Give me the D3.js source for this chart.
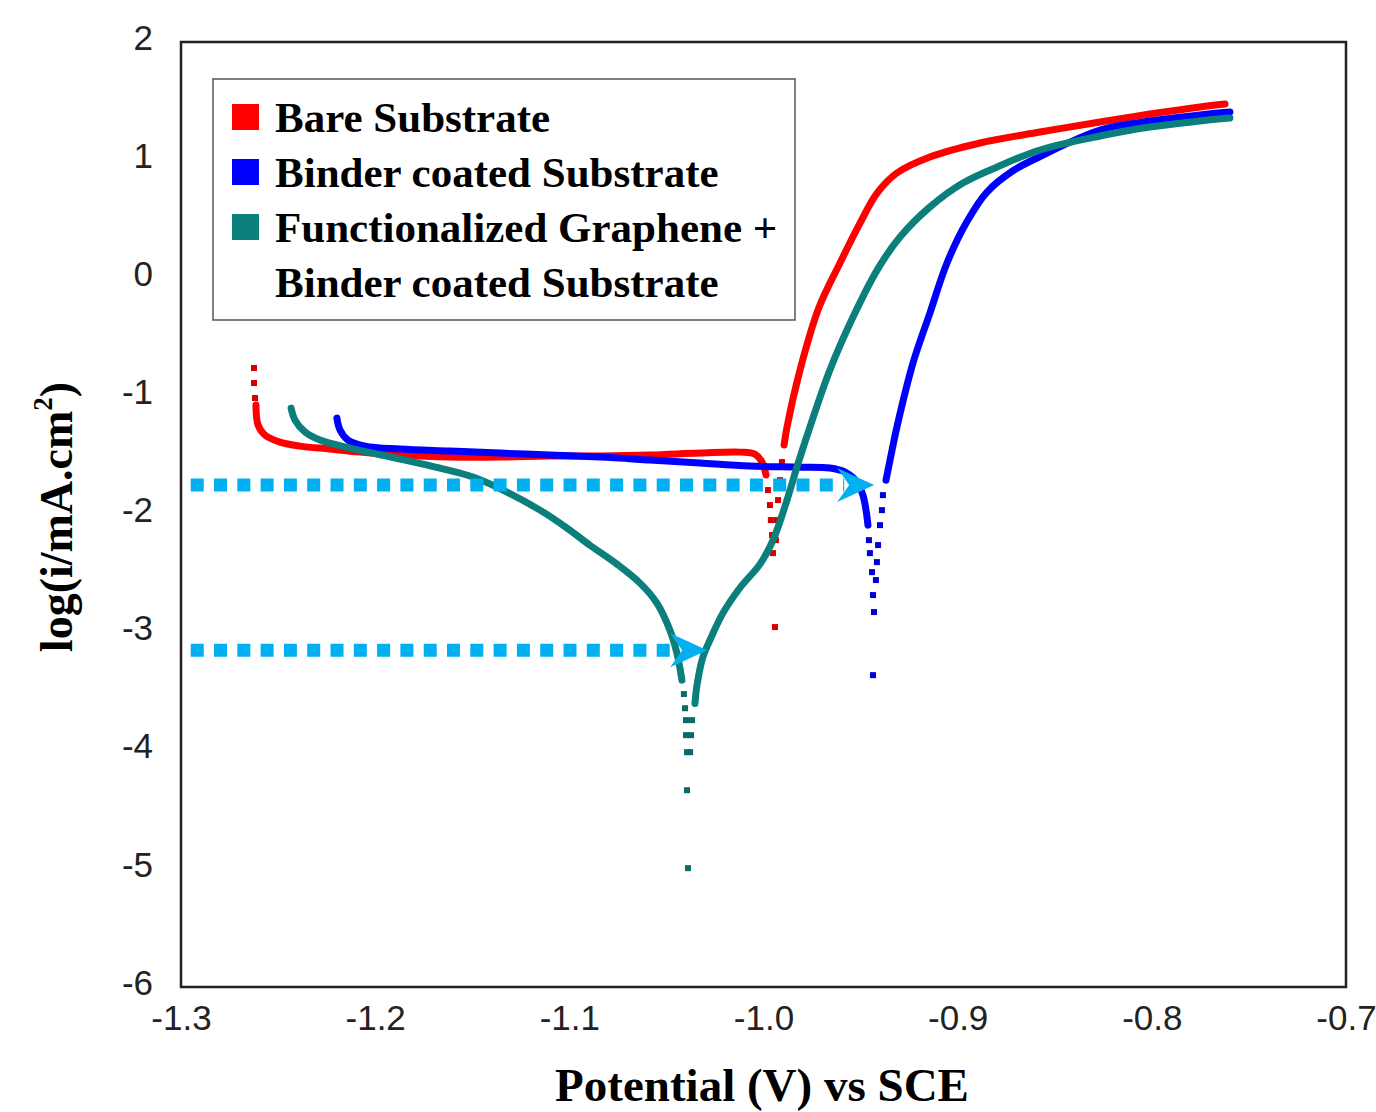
<!DOCTYPE html>
<html>
<head>
<meta charset="utf-8">
<script src="https://cdn.jsdelivr.net/npm/d3@7"></script>
<style>
  body { margin: 0; background: #fff; }
</style>
</head>
<body>
<div id="chart"></div>
<script>
const WIDTH = 1376
const HEIGHT = 1112

// axes
const xTicks = [-1.3, -1.2, -1.1, -1.0, -0.9, -0.8, -0.7]
const yTicks = [2, 1, 0, -1, -2, -3, -4, -5, -6]

// Bare substrate  [potential V, log i]
const bareCathodic = [[-1.2614,-1.074],[-1.2603,-1.243],[-1.2567,-1.328],[-1.2490,-1.387],[-1.2387,-1.421],[-1.2233,-1.446],[-1.2078,-1.472],[-1.1872,-1.497],[-1.1615,-1.514],[-1.1357,-1.514],[-1.1100,-1.505],[-1.0842,-1.505],[-1.0585,-1.497],[-1.0327,-1.480],[-1.0121,-1.472],[-1.0044,-1.489],[-1.0008,-1.556],[-0.9987,-1.666]]
const bareDots = [[-1.2624,-0.760],[-1.2624,-0.887],[-1.2619,-1.014],[-0.9977,-1.793],[-0.9967,-1.920],[-0.9962,-2.047],[-0.9956,-2.174],[-0.9951,-2.327],[-0.9941,-2.953],[-0.9936,-2.217],[-0.9931,-2.047],[-0.9925,-1.878],[-0.9915,-1.709],[-0.9905,-1.556]]
const bareAnodic = [[-0.9894,-1.412],[-0.9879,-1.260],[-0.9812,-0.777],[-0.9715,-0.250],[-0.9606,0.129],[-0.9503,0.467],[-0.9415,0.721],[-0.9313,0.891],[-0.9143,1.026],[-0.8885,1.145],[-0.8576,1.238],[-0.8267,1.323],[-0.8010,1.390],[-0.7752,1.450],[-0.7623,1.475]]

// Binder coated substrate
const binderCathodic = [[-1.2197,-1.184],[-1.2181,-1.285],[-1.2140,-1.370],[-1.2052,-1.421],[-1.1872,-1.446],[-1.1615,-1.463],[-1.1357,-1.480],[-1.1100,-1.497],[-1.0842,-1.514],[-1.0585,-1.539],[-1.0327,-1.565],[-1.0070,-1.590],[-0.9812,-1.599],[-0.9658,-1.607],[-0.9580,-1.641],[-0.9518,-1.726],[-0.9488,-1.836],[-0.9472,-1.963],[-0.9462,-2.090]]
const binderDots = [[-0.9457,-2.217],[-0.9452,-2.327],[-0.9441,-2.488],[-0.9436,-2.682],[-0.9431,-2.826],[-0.9436,-3.360],[-0.9421,-2.555],[-0.9416,-2.403],[-0.9410,-2.259],[-0.9400,-2.090],[-0.9390,-1.963],[-0.9385,-1.836]]
const binderAnodic = [[-0.9369,-1.709],[-0.9338,-1.455],[-0.9313,-1.260],[-0.9230,-0.718],[-0.9143,-0.295],[-0.9055,0.129],[-0.8952,0.480],[-0.8849,0.730],[-0.8715,0.910],[-0.8576,1.030],[-0.8267,1.255],[-0.8010,1.331],[-0.7752,1.382],[-0.7598,1.407]]

// Functionalized graphene + binder coated substrate
const grapheneCathodic = [[-1.2433,-1.099],[-1.2413,-1.201],[-1.2361,-1.302],[-1.2284,-1.370],[-1.2130,-1.438],[-1.1872,-1.530],[-1.1666,-1.607],[-1.1496,-1.683],[-1.1321,-1.810],[-1.1151,-1.963],[-1.1012,-2.115],[-1.0894,-2.260],[-1.0755,-2.420],[-1.0636,-2.581],[-1.0549,-2.750],[-1.0482,-2.979],[-1.0446,-3.174],[-1.0420,-3.402]]
const grapheneDots = [[-1.0410,-3.520],[-1.0404,-3.640],[-1.0399,-3.741],[-1.0399,-3.868],[-1.0394,-4.012],[-1.0394,-4.334],[-1.0389,-4.994],[-1.0378,-4.012],[-1.0373,-3.868],[-1.0368,-3.741]]
const grapheneAnodic = [[-1.0353,-3.600],[-1.0343,-3.450],[-1.0312,-3.207],[-1.0276,-3.064],[-1.0209,-2.835],[-1.0121,-2.620],[-1.0018,-2.420],[-0.9951,-2.217],[-0.9879,-1.878],[-0.9828,-1.599],[-0.9761,-1.260],[-0.9658,-0.777],[-0.9539,-0.329],[-0.9415,0.069],[-0.9297,0.349],[-0.9143,0.603],[-0.8973,0.806],[-0.8797,0.942],[-0.8576,1.086],[-0.8267,1.204],[-0.8010,1.280],[-0.7752,1.331],[-0.7598,1.356]]

// legend
const legendNames = ["Bare Substrate", "Binder coated Substrate", "Functionalized Graphene +", "Binder coated Substrate"]
const seriesColors = ["#ff0000", "#0000ff", "#0b7f7c"]

// dotted guide arrows (Icorr markers)
const arrowY = [-1.75, -3.15]
const arrowStartX = -1.295
const arrowEndX = [-0.943, -1.029]

const svg = d3.select("#chart")
    .append("svg")
    .attr("width", WIDTH)
    .attr("height", HEIGHT)

const x = d3.scaleLinear().domain([-1.3, -0.7]).range([181, 1346])
const y = d3.scaleLinear().domain([-6, 2]).range([987, 42])

// axes (labels only, frame drawn separately)
const xAxis = svg.append("g")
    .attr("transform", "translate(0,987)")
    .call(d3.axisBottom(x).tickValues(xTicks).tickSize(0).tickPadding(18).tickFormat(d => d.toFixed(1)))
xAxis.select(".domain").remove()
xAxis.selectAll("text")
    .attr("font-family", "Liberation Sans, Arial, sans-serif")
    .attr("font-size", 35)
    .attr("fill", "#222")

const yAxis = svg.append("g")
    .attr("transform", "translate(181,0)")
    .call(d3.axisLeft(y).tickValues(yTicks).tickSize(0).tickPadding(28).tickFormat(d => String(d)))
yAxis.select(".domain").remove()
yAxis.selectAll("text")
    .attr("font-family", "Liberation Sans, Arial, sans-serif")
    .attr("font-size", 35)
    .attr("fill", "#222")
    .attr("y", -4)

// series
const line = d3.line()
    .x(d => x(d[0]))
    .y(d => y(d[1]))
    .curve(d3.curveCatmullRom.alpha(0.5))

const series = [
    {cath: bareCathodic, dots: bareDots, anod: bareAnodic, color: seriesColors[0]},
    {cath: binderCathodic, dots: binderDots, anod: binderAnodic, color: seriesColors[1]},
    {cath: grapheneCathodic, dots: grapheneDots, anod: grapheneAnodic, color: seriesColors[2]}
]

const plot = svg.append("g")
series.forEach(s => {
    [s.cath, s.anod].forEach(seg => {
        plot.append("path")
            .datum(seg)
            .attr("d", line)
            .attr("fill", "none")
            .attr("stroke", s.color)
            .attr("stroke-width", 7)
            .attr("stroke-linecap", "round")
    })
    plot.selectAll(null)
        .data(s.dots)
        .enter()
        .append("rect")
        .attr("x", d => x(d[0]) - 3)
        .attr("y", d => y(d[1]) - 3)
        .attr("width", 6)
        .attr("height", 6)
        .attr("fill", d3.color(s.color).darker(0.5))
})

// dotted arrows
const cyan = "#00b0f0"
arrowY.forEach((v, i) => {
    const tipX = x(arrowEndX[i])
    const yy = y(v)
    svg.append("line")
        .attr("x1", x(arrowStartX))
        .attr("x2", tipX - 30)
        .attr("y1", yy)
        .attr("y2", yy)
        .attr("stroke", cyan)
        .attr("stroke-width", 13)
        .attr("stroke-dasharray", "13 10.3")
    svg.append("path")
        .attr("d", `M${tipX},${yy} L${tipX - 37},${yy - 17} L${tipX - 25},${yy} L${tipX - 37},${yy + 17} Z`)
        .attr("fill", cyan)
})

// frame
svg.append("rect")
    .attr("x", 181)
    .attr("y", 42)
    .attr("width", 1346 - 181)
    .attr("height", 987 - 42)
    .attr("fill", "none")
    .attr("stroke", "#222")
    .attr("stroke-width", 2.5)

// legend
const legend = svg.append("g")
legend.append("rect")
    .attr("x", 213).attr("y", 79)
    .attr("width", 582).attr("height", 241)
    .attr("fill", "#fff")
    .attr("stroke", "#555")
    .attr("stroke-width", 1.5)

legend.selectAll("rect.sw")
    .data(seriesColors)
    .enter()
    .append("rect")
    .attr("class", "sw")
    .attr("x", 232)
    .attr("y", (d, i) => 104 + i * 55)
    .attr("width", 27)
    .attr("height", 26)
    .attr("fill", d => d)

legend.selectAll("text")
    .data(legendNames)
    .enter()
    .append("text")
    .attr("x", 275)
    .attr("y", (d, i) => 132 + i * 55)
    .attr("font-family", "Liberation Serif, Times New Roman, serif")
    .attr("font-weight", "bold")
    .attr("font-size", 43)
    .attr("fill", "#000")
    .text(d => d)

// axis titles
svg.append("text")
    .attr("x", 762)
    .attr("y", 1101)
    .attr("text-anchor", "middle")
    .attr("font-family", "Liberation Serif, Times New Roman, serif")
    .attr("font-weight", "bold")
    .attr("font-size", 47)
    .text("Potential (V) vs SCE")

const yt = svg.append("text")
    .attr("transform", "translate(72,517) rotate(-90)")
    .attr("text-anchor", "middle")
    .attr("font-family", "Liberation Serif, Times New Roman, serif")
    .attr("font-weight", "bold")
    .attr("font-size", 46)
yt.append("tspan").text("log(i/mA.cm")
yt.append("tspan").attr("font-size", 27).attr("dy", -20).text("2")
yt.append("tspan").attr("dy", 20).text(")")
</script>
</body>
</html>
